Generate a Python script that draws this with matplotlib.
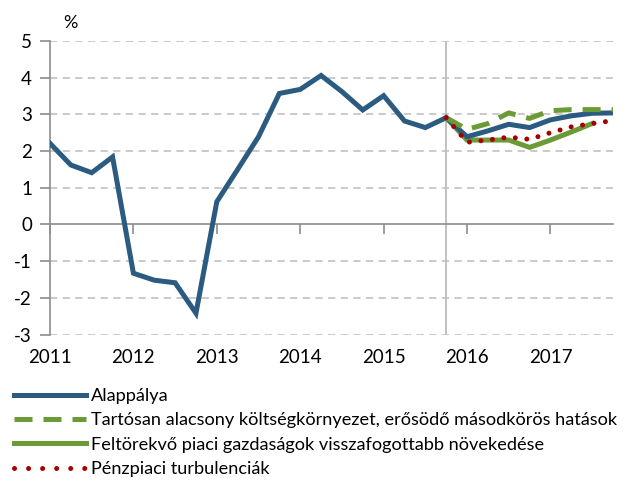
import matplotlib
matplotlib.use('Agg')
import matplotlib.pyplot as plt
import matplotlib.transforms as mtransforms
from matplotlib.lines import Line2D

plt.rcParams['font.family'] = ['Lato', 'DejaVu Sans']
plt.rcParams['axes.unicode_minus'] = False

# Negyedéves adatok 2011 Q1 - 2017 Q4 (index 0..27)
years = ['2011', '2012', '2013', '2014', '2015', '2016', '2017']
alap = [2.21, 1.62, 1.41, 1.84, -1.33, -1.52, -1.59, -2.42,
        0.62, 1.50, 2.39, 3.57, 3.68, 4.06, 3.62, 3.12,
        3.51, 2.82, 2.64, 2.91, 2.39, 2.55, 2.73, 2.64,
        2.85, 2.96, 3.03, 3.04]
tartosan = [2.91, 2.59, 2.75, 3.04, 2.89, 3.10, 3.13, 3.13, 3.13]
feltorekvo = [2.91, 2.30, 2.30, 2.30, 2.10, 2.30, 2.52, 2.75]
penzpiaci = [2.91, 2.24, 2.30, 2.38, 2.32, 2.50, 2.66, 2.75, 2.83]
start = 19  # 2015 Q4, az előrejelzés kezdete

labels = ['Alappálya',
          'Tartósan alacsony költségkörnyezet, erősödő másodkörös hatások',
          'Feltörekvő piaci gazdaságok visszafogottabb növekedése',
          'Pénzpiaci turbulenciák']

blue = '#2b5b80'
green = '#6b9b37'
red = '#a50000'
grey = '#8c8c8c'

fig = plt.figure(figsize=(6.29, 4.82), dpi=100)
ax = fig.add_axes([50/629, 1-334.5/482, 563/629, 293.5/482])

fs = 13
lw = 3.6

# rácsvonalak
for v in [-3, -2, -1, 1, 2, 3, 4, 5]:
    ax.axhline(v, color='#c6c6c6', lw=1.3, ls=(0, (4, 3)), zorder=1)
ax.axvline(start, color='#c0c0c0', lw=1.4, zorder=1)

x_all = list(range(len(alap)))
ax.plot(x_all, alap, color=blue, lw=lw, solid_joinstyle='miter', zorder=3)
ax.plot(range(start, start+len(tartosan)), tartosan, color=green, lw=lw,
        ls=(0, (3.6, 2.2)), dash_capstyle='butt', zorder=4)
ax.plot(range(start, start+len(feltorekvo)), feltorekvo, color=green, lw=lw,
        solid_joinstyle='miter', zorder=2)
ax.plot(range(start, start+len(penzpiaci)), penzpiaci, color=red, lw=lw,
        ls=(0, (0.01, 2.3)), dash_capstyle='round', zorder=5)

ax.set_xlim(0, len(alap)-1)
ax.set_ylim(-3, 5)

# tengelyek
for s in ['top', 'right']:
    ax.spines[s].set_visible(False)
ax.spines['left'].set_color(grey)
ax.spines['left'].set_linewidth(1.2)
ax.spines['bottom'].set_position(('data', 0))
ax.spines['bottom'].set_color(grey)
ax.spines['bottom'].set_linewidth(1.2)
ax.set_yticks(range(-3, 6))
ax.tick_params(axis='y', length=7, width=1.2, color=grey, labelsize=fs+0.5,
               pad=6, labelcolor='black')
ax.set_xticks(range(0, len(alap), 4))
ax.set_xticklabels([])
ax.tick_params(axis='x', length=7, width=1.2, color=grey, direction='out')

trans = mtransforms.blended_transform_factory(ax.transData, ax.transAxes)
for i, y in enumerate(years):
    ax.text(i*4, -0.077, y, transform=trans, ha='center', va='center',
            fontsize=fs+0.5)

fig.text(70/629, 1-23/482, '%', ha='center', va='center', fontsize=fs)

handles = [Line2D([], [], color=blue, lw=lw),
           Line2D([], [], color=green, lw=lw, ls=(0, (3.6, 2.2))),
           Line2D([], [], color=green, lw=lw),
           Line2D([], [], color=red, lw=lw, ls=(0, (0.01, 2.8)),
                  dash_capstyle='round')]
fig.legend(handles, labels, loc='upper left', bbox_to_anchor=(14/629, 1-388/482),
           frameon=False, fontsize=fs+0.1, handlelength=3.95, handletextpad=0.27,
           labelspacing=0.46, borderpad=0, borderaxespad=0)

fig.savefig('out.png', dpi=100)
